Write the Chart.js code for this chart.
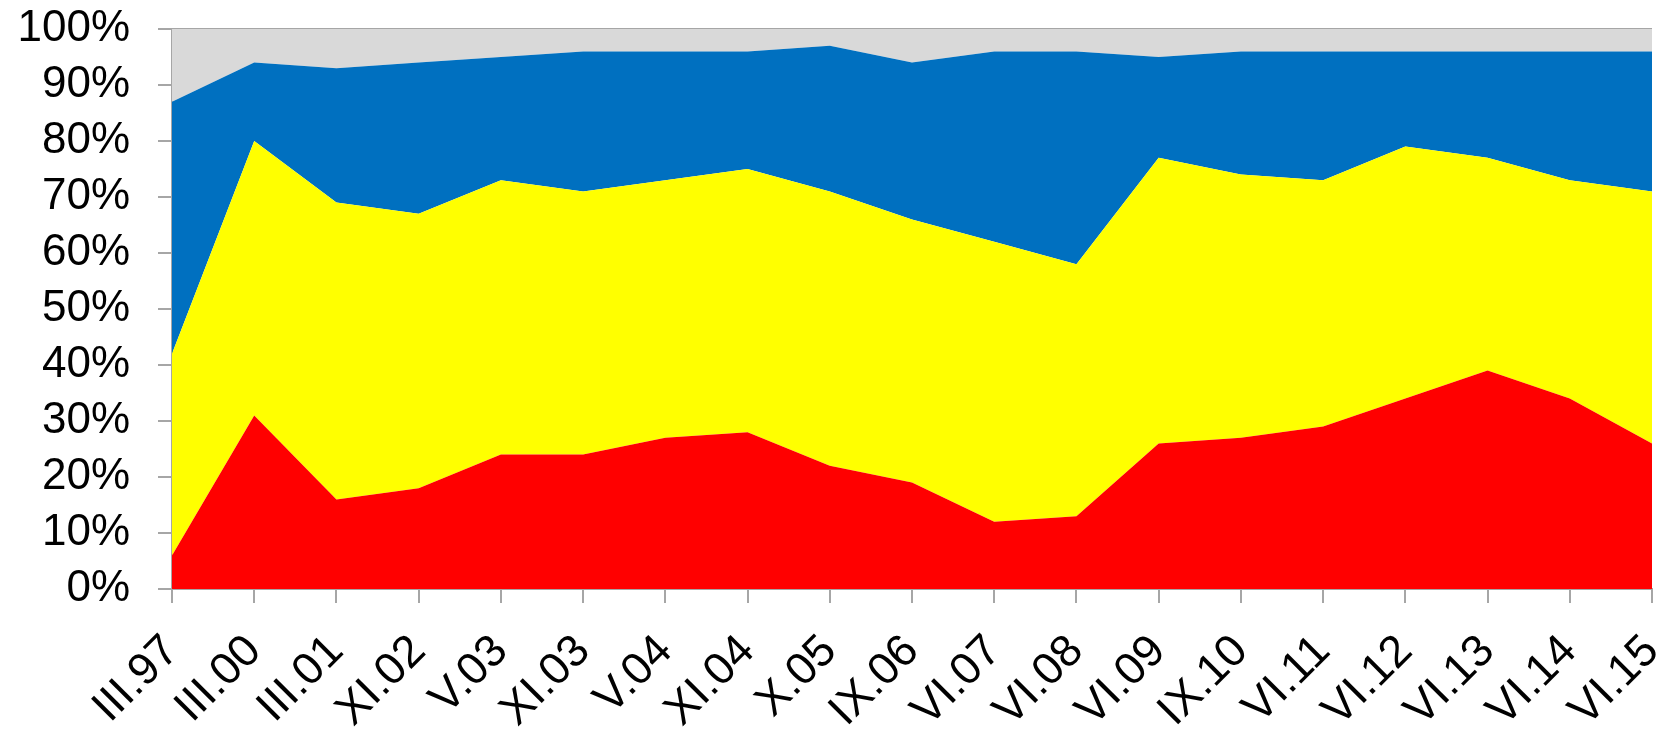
<!DOCTYPE html>
<html>
<head>
<meta charset="utf-8">
<script src="https://cdn.jsdelivr.net/npm/chart.js@4.4.1/dist/chart.umd.min.js"></script>
<style>
  html, body { margin: 0; padding: 0; background: #ffffff; }
  #wrap { width: 1671px; height: 730px; position: relative; }
</style>
</head>
<body>
<div id="wrap"><canvas id="c" width="1671" height="730"></canvas></div>
<script>
const categories = ["III.97","III.00","III.01","XI.02","V.03","XI.03","V.04","XI.04","X.05","IX.06","VI.07","VI.08","VI.09","IX.10","VI.11","VI.12","VI.13","VI.14","VI.15"];
const redValues    = [6,31,16,18,24,24,27,28,22,19,12,13,26,27,29,34,39,34,26];
const yellowValues = [36,49,53,49,49,47,46,47,49,47,50,45,51,47,44,45,38,39,45];
const blueValues   = [45,14,24,27,22,25,23,21,26,28,34,38,18,22,23,17,19,23,25];
const greyValues   = [13,6,7,6,5,4,4,4,3,6,4,4,5,4,4,4,4,4,4];
const yTicks = [0,10,20,30,40,50,60,70,80,90,100];

const FONT = "'Liberation Sans', Arial, sans-serif";
const AXIS = '#a6a6a6';

function ds(label, data, color, fill) {
  return { label, data, backgroundColor: color, borderColor: color, borderWidth: 0,
           pointRadius: 0, pointHoverRadius: 0, fill, tension: 0 };
}

function zeroPad(s) { s.paddingLeft = 0; s.paddingRight = 0; s.paddingTop = 0; s.paddingBottom = 0; }

new Chart(document.getElementById('c'), {
  type: 'line',
  data: {
    labels: categories,
    datasets: [
      ds('red', redValues, '#ff0000', 'origin'),
      ds('yellow', yellowValues, '#ffff00', '-1'),
      ds('blue', blueValues, '#0070c0', '-1'),
      ds('grey', greyValues, '#d9d9d9', '-1')
    ]
  },
  options: {
    responsive: false,
    animation: false,
    events: [],
    layout: { padding: { left: 0, right: 19, top: 29, bottom: 0 } },
    plugins: { legend: { display: false }, tooltip: { enabled: false } },
    scales: {
      x: {
        offset: false,
        z: 1,
        grid: { drawOnChartArea: false, color: AXIS, tickColor: AXIS, tickLength: 14, lineWidth: 2 },
        border: { color: AXIS, width: 2 },
        ticks: { autoSkip: false, maxRotation: 45, minRotation: 45, padding: 22,
                 color: '#000', font: { family: FONT, size: 45 } },
        afterFit: s => { s.height = 141; zeroPad(s); }
      },
      y: {
        stacked: true,
        min: 0, max: 100,
        z: 1,
        afterBuildTicks: s => { s.ticks = yTicks.map(v => ({ value: v })); },
        grid: { color: c => (c.tick && c.tick.value === 100) ? AXIS : 'rgba(0,0,0,0)',
                tickColor: AXIS, tickLength: 14, lineWidth: 2 },
        border: { color: AXIS, width: 2 },
        ticks: { padding: 28, color: '#000', font: { family: FONT, size: 44 },
                 callback: v => v + '%' },
        afterFit: s => { s.width = 172; zeroPad(s); }
      }
    }
  }
});
</script>
</body>
</html>
